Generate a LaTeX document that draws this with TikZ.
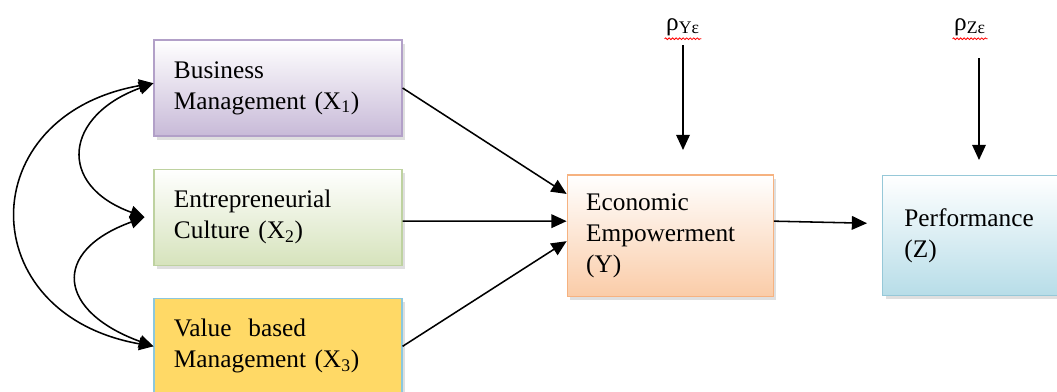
\documentclass[tikz,border=0pt]{standalone}
\usepackage{fontspec}
\setmainfont{Liberation Serif}
\definecolor{bmfill}{RGB}{200,186,216}
\definecolor{bmline}{RGB}{178,160,200}
\definecolor{ecfill}{RGB}{214,227,188}
\definecolor{ecline}{RGB}{190,210,160}
\definecolor{vbfill}{RGB}{255,217,102}
\definecolor{vbline}{RGB}{140,200,222}
\definecolor{eefill}{RGB}{250,204,168}
\definecolor{eeline}{RGB}{246,178,128}
\definecolor{pffill}{RGB}{183,221,232}
\definecolor{pfline}{RGB}{150,200,216}
\usetikzlibrary{positioning,chains,calc,shadows,arrows.meta,decorations.pathmorphing}

\begin{document}
\begin{tikzpicture}[x=0.025cm,y=0.025cm,
    font=\fontsize{18}{22}\selectfont,
    box/.style={draw,line width=0.8pt,align=left,
        drop shadow={shadow xshift=0.08cm,shadow yshift=-0.09cm,fill=black!25}},
    xbox/.style={box,minimum width=6.2cm,minimum height=2.4cm,text width=5.2cm,inner xsep=0.5cm},
    arr/.style={line width=1.1pt,-{Triangle[length=0.38cm,width=0.34cm]}},
    dblarr/.style={line width=1.1pt,{Triangle[length=0.36cm,width=0.32cm]}-{Triangle[length=0.36cm,width=0.32cm]}},
    rhonode/.style={inner sep=1pt},
    spell/.style={red,line width=0.6pt,decorate,decoration={snake,amplitude=0.6pt,segment length=2.5pt}}
    ]
    \useasboundingbox (0,0) rectangle (1057,391);

    % the exogenous variables
    \begin{scope}[start chain=going below,node distance=0.8cm]
    \node[xbox,on chain,draw=bmline,top color=white,bottom color=bmfill] (x1) at (278,303)
        {Business\\Management\ (X\textsubscript{1})};
    \node[xbox,on chain,draw=ecline,top color=white,bottom color=ecfill] (x2)
        {Entrepreneurial\\Culture (X\textsubscript{2})};
    \node[xbox,on chain,draw=vbline,fill=vbfill] (x3)
        {Value\ \ based\\Management (X\textsubscript{3})};
    \end{scope}

    % the intervening and endogenous variables
    \node[box,right=4.1cm of x2,yshift=-0.46cm,draw=eeline,top color=white,bottom color=eefill,
        minimum width=5.15cm,minimum height=3.025cm,text width=4.2cm,inner xsep=0.475cm] (y)
        {Economic\\Empowerment\\(Y)};
    \node[box,right=2.7cm of y,draw=pfline,top color=white,bottom color=pffill,
        minimum width=4.65cm,minimum height=3cm,text width=3.55cm,inner xsep=0.55cm] (z)
        {Performance\\(Z)};

    % the residuals
    \node[rhonode] (ry) at (683,364) {ρ\textsubscript{Yε}};
    \node[rhonode] (rz) at (970,364) {ρ\textsubscript{Zε}};
    \draw[spell] ([yshift=-1pt]ry.south west) -- ([yshift=-1pt]ry.south east);
    \draw[spell] ([yshift=-1pt]rz.south west) -- ([yshift=-1pt]rz.south east);
    \coordinate (ytip) at (683,241);
    \coordinate (zfoot) at (979,333);
    \coordinate (ztip) at (979,231);
    \draw[arr,shorten <=0.2cm] (ry.south) -- (ytip);
    \draw[arr] (zfoot) -- (ztip);

    % the paths
    \draw[arr] (x1.east) -- ([yshift=1.04cm]y.west);
    \draw[arr] ([yshift=-0.1cm]x2.east) -- ([yshift=0.36cm]y.west);
    \draw[arr] (x3.east) -- ([yshift=-0.14cm]y.west);
    \draw[arr,shorten >=0.37cm] ([yshift=0.36cm]y.east) -- ([yshift=0.3cm]z.west);

    % the correlations
    \draw[dblarr] ([yshift=0.12cm]x1.west) to[out=190,in=170,looseness=1.8] (x3.west);
    \draw[dblarr] ([yshift=0.12cm]x1.west) to[out=200,in=160,looseness=1.8] ([xshift=-0.22cm]x2.west);
    \draw[dblarr] ([xshift=-0.22cm]x2.west) to[out=200,in=160,looseness=2] (x3.west);

\end{tikzpicture}
\end{document}
